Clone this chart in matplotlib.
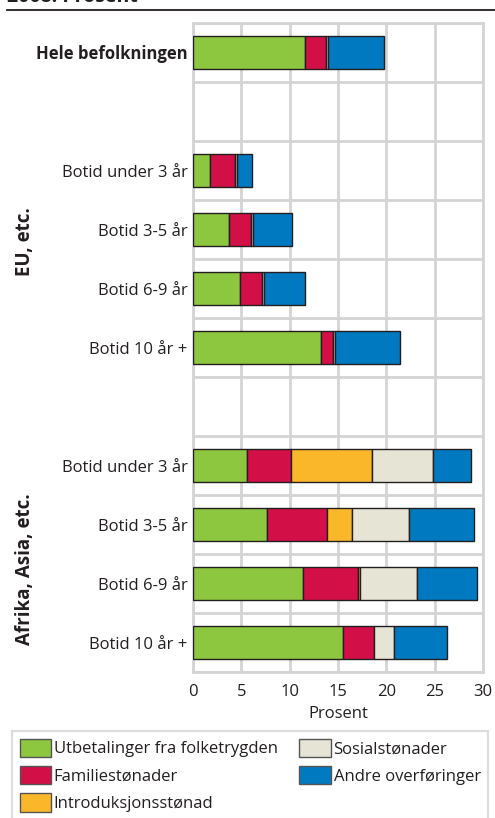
import matplotlib.pyplot as plt
from matplotlib.patches import Patch
import numpy as np

plt.rcParams['font.family'] = ['Open Sans', 'DejaVu Sans']

# Rader fra topp til bunn ('' = tom rad)
rader = ['Hele befolkningen', '',
         'Botid under 3 år', 'Botid 3-5 år', 'Botid 6-9 år', 'Botid 10 år +', '',
         'Botid under 3 år', 'Botid 3-5 år', 'Botid 6-9 år', 'Botid 10 år +']

serier = ['Utbetalinger fra folketrygden', 'Familiestønader', 'Introduksjonsstønad',
          'Sosialstønader', 'Andre overføringer']
farger = ['#8dc63f', '#d20f46', '#fbb72a', '#e6e4d4', '#0079c1']

folketrygd = [11.6, 0, 1.8, 3.7, 4.9, 13.25, 0, 5.6, 7.65, 11.35, 15.5]
familie = [2.1, 0, 2.55, 2.3, 2.25, 1.25, 0, 4.55, 6.2, 5.7, 3.2]
intro = [0, 0, 0, 0, 0, 0, 0, 8.35, 2.55, 0.25, 0]
sosial = [0.3, 0, 0.15, 0.25, 0.2, 0.15, 0, 6.35, 5.95, 5.9, 2.05]
andre = [5.75, 0, 1.55, 3.95, 4.25, 6.75, 0, 3.9, 6.75, 6.15, 5.5]
tom = [False, True, False, False, False, False, True, False, False, False, False]

fig = plt.figure(figsize=(4.95, 8.18), dpi=100)
ax = fig.add_axes([0.390, 0.178, 0.586, 0.794])

y = np.arange(len(rader))
venstre = np.zeros(len(rader))
for verdier, farge in zip([folketrygd, familie, intro, sosial, andre], farger):
    v = np.array(verdier, dtype=float)
    maske = (v > 0) & ~np.array(tom)
    ax.barh(y[maske], v[maske], left=venstre[maske], height=0.56, color=farge,
            edgecolor='#231f20', linewidth=1.0, zorder=3)
    venstre += v

ax.set_xlim(0, 30)
ax.set_ylim(len(rader) - 0.5, -0.5)
ax.set_xticks(range(0, 31, 5))
ax.set_yticks(y)
ax.set_yticklabels(rader, fontsize=12, color='#231f20')
ax.get_yticklabels()[0].set_fontweight('bold')
ax.set_yticks(np.arange(-0.5, len(rader), 1), minor=True)
ax.tick_params(axis='both', length=0, pad=4)
ax.tick_params(axis='y', which='minor', length=0)
ax.tick_params(axis='x', labelsize=12, colors='#231f20', pad=8)
ax.grid(True, axis='x', which='major', color='#d4d4d4', linewidth=2, zorder=0)
ax.grid(True, axis='y', which='minor', color='#d4d4d4', linewidth=2, zorder=0)
for s in ax.spines.values():
    s.set_color('#d4d4d4')
    s.set_linewidth(2)
ax.set_xlabel('Prosent', fontsize=12, color='#231f20', labelpad=5)

# Gruppetitler
fig.text(25 / 495, 1 - 242 / 818, 'EU, etc.', rotation=90, fontsize=13.5, fontweight='bold',
         ha='center', va='center', color='#231f20')
fig.text(25 / 495, 1 - 569 / 818, 'Afrika, Asia, etc.', rotation=90, fontsize=13.5,
         fontweight='bold', ha='center', va='center', color='#231f20')

# Tittel (kuttet i toppen) og linje
fig.text(0.015, 1 - 2 / 818, '2008. Prosent', fontsize=14, fontweight='bold',
         ha='left', va='baseline', color='#231f20')
fig.add_artist(plt.Line2D([7 / 495, 1], [1 - 10 / 818, 1 - 10 / 818],
                          color='#231f20', linewidth=1.3))

handles = [Patch(facecolor=f, edgecolor='#555555', linewidth=1) for f in farger]
leg = fig.legend(handles, serier, ncol=2, loc='upper left',
                 bbox_to_anchor=(12 / 495, 1 - 731 / 818), borderaxespad=0,
                 fontsize=12, frameon=True, fancybox=False, edgecolor='#d4d4d4',
                 handlelength=1.9, handleheight=1.35, handletextpad=0.15,
                 labelspacing=0.5, columnspacing=1.3, borderpad=0.45,
                 labelcolor='#231f20')
leg.get_frame().set_linewidth(1.5)

fig.savefig('out.png', dpi=100)
